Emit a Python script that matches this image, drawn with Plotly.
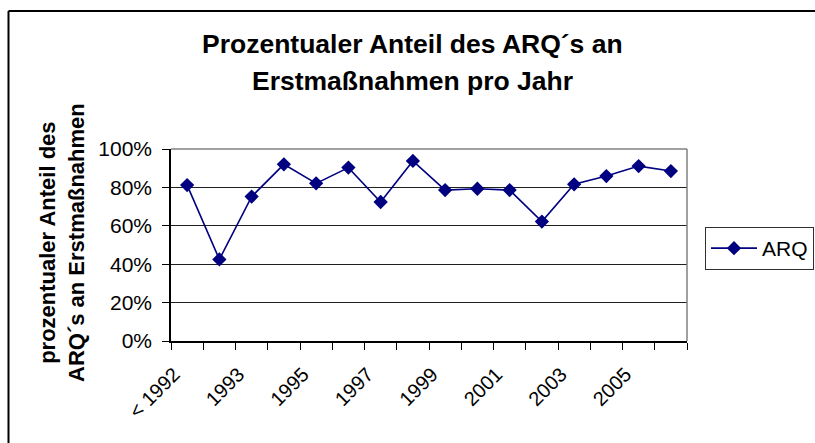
import plotly.graph_objects as go

categories = ["< 1992", "1992", "1993", "1994", "1995", "1996", "1997", "1998",
              "1999", "2000", "2001", "2002", "2003", "2004", "2005", "2006"]
arq_values = [0.812, 0.425, 0.752, 0.920, 0.821, 0.903, 0.724, 0.938,
              0.786, 0.793, 0.786, 0.622, 0.816, 0.859, 0.911, 0.885]
label_every = 2
y_ticks = [0.0, 0.2, 0.4, 0.6, 0.8, 1.0]
title_lines = ["Prozentualer Anteil des ARQ´s an", "Erstmaßnahmen pro Jahr"]
y_title = "prozentualer Anteil des<br>ARQ´s an Erstmaßnahmen"

W, H = 815, 443
L, R, T, B = 171, 128, 149, 102
PW, PH = W - L - R, H - T - B

def px_x(p):
    return (p - L) / PW

def px_y(p):
    return (H - B - p) / PH

x_idx = list(range(len(categories)))
tick_idx = x_idx[::label_every]
tick_txt = categories[::label_every]

navy = "#000080"
font = "Arial, Liberation Sans, sans-serif"

fig = go.Figure()
fig.add_trace(go.Scatter(
    x=x_idx, y=arq_values, name="ARQ", mode="lines+markers",
    line=dict(color=navy, width=1.6),
    marker=dict(symbol="diamond", size=11, color=navy),
))

fig.update_layout(
    width=W, height=H,
    margin=dict(l=L, r=R, t=T, b=B, autoexpand=False),
    paper_bgcolor="white", plot_bgcolor="white",
    font=dict(family=font, size=20, color="black"),
    showlegend=True,
    legend=dict(
        x=px_x(705), xanchor="left", y=px_y(227), yanchor="top",
        bordercolor="#303030", borderwidth=1, bgcolor="white",
        font=dict(size=21, family=font, color="black"),
        itemwidth=46, entrywidth=125, entrywidthmode="pixels",
    ),
    xaxis=dict(
        range=[-0.5, len(categories) - 0.5],
        tickmode="array", tickvals=tick_idx, ticktext=tick_txt,
        tickangle=-45, ticks="",
        minor=dict(tickmode="linear", tick0=-0.5, dtick=1, ticks="outside",
                   ticklen=7, tickcolor="black", tickwidth=1, showgrid=False),
        showline=True, linecolor="black", linewidth=1.5,
        showgrid=False, zeroline=False,
        tickfont=dict(size=20, family=font, color="black"),
        ticklabelstandoff=12, ticklabelshift=-13,
    ),
    yaxis=dict(
        range=[0, 1], tickmode="array", tickvals=y_ticks, tickformat=".0%",
        ticks="outside", ticklen=7, tickcolor="black",
        showline=True, linecolor="black", linewidth=1.5,
        showgrid=True, gridcolor="#202020", gridwidth=1, zeroline=False,
        tickfont=dict(size=21, family=font, color="black"),
        ticklabelstandoff=6,
    ),
    shapes=[
        dict(type="line", xref="paper", yref="paper", x0=0, x1=1, y0=1, y1=1,
             line=dict(color="#808080", width=1.5), layer="above"),
        dict(type="line", xref="paper", yref="paper", x0=1, x1=1, y0=0, y1=1,
             line=dict(color="#808080", width=1.5), layer="above"),
        dict(type="line", xref="paper", yref="paper", x0=px_x(8.5), x1=px_x(W + 5),
             y0=px_y(11), y1=px_y(11), line=dict(color="black", width=2)),
        dict(type="line", xref="paper", yref="paper", x0=px_x(8.5), x1=px_x(8.5),
             y0=px_y(11), y1=px_y(H + 5), line=dict(color="black", width=2)),
    ],
    annotations=[
        dict(text="<b>" + title_lines[0] + "</b>", xref="paper", yref="paper",
             x=px_x(412), y=px_y(44), xanchor="center", yanchor="middle",
             showarrow=False, font=dict(size=26.5, family=font, color="black")),
        dict(text="<b>" + title_lines[1] + "</b>", xref="paper", yref="paper",
             x=px_x(412), y=px_y(81), xanchor="center", yanchor="middle",
             showarrow=False, font=dict(size=26.5, family=font, color="black")),
        dict(text="<b>" + y_title + "</b>",
             textangle=-90, xref="paper", yref="paper",
             x=px_x(62), y=px_y(243), xanchor="center", yanchor="middle",
             showarrow=False, font=dict(size=22, family=font, color="black")),
    ],
)

fig.write_html(
    "out.html",
    config={"displayModeBar": False},
    post_script=(
        "document.body.style.margin='0';"
        "document.body.style.padding='0';"
        "document.documentElement.style.overflow='hidden';"
        "document.body.style.overflow='hidden';"
    ),
)
